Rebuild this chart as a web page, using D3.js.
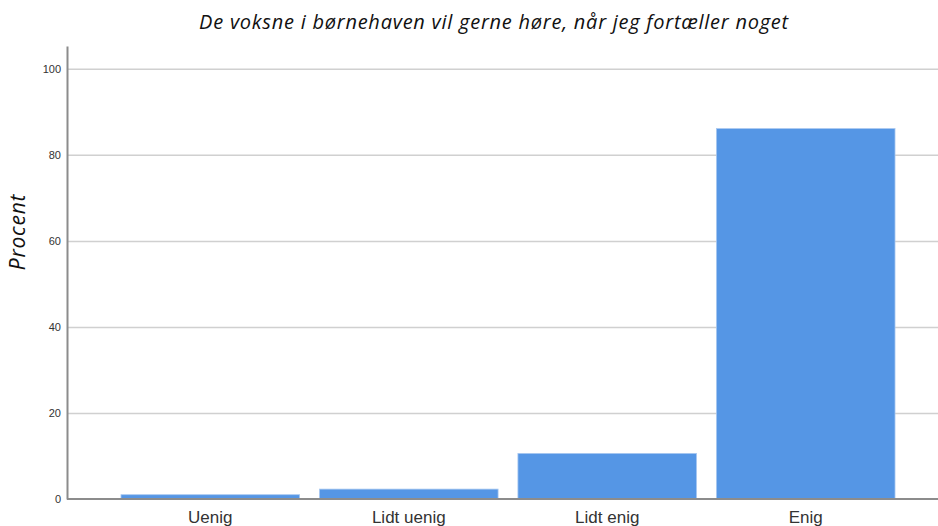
<!DOCTYPE html>
<html>
<head>
<meta charset="utf-8">
<script src="https://cdn.jsdelivr.net/npm/d3@7"></script>
<style>
  body { margin: 0; background: #fff; }
  svg { display: block; }
</style>
</head>
<body>
<script>
const categories = ['Uenig', 'Lidt uenig', 'Lidt enig', 'Enig'];
const percents = [1.0, 2.3, 10.6, 86.1];
const yTicks = [0, 20, 40, 60, 80, 100];

const width = 938, height = 526;
const svg = d3.select('body').append('svg')
    .attr('width', width)
    .attr('height', height);

const x = d3.scaleBand()
    .domain(categories)
    .range([67, 949])
    .paddingInner(0.1)
    .paddingOuter(0.272);

const y = d3.scaleLinear()
    .domain([0, 105.3])
    .range([499, 46]);

// gridlines
svg.append('g')
    .selectAll('line')
    .data(yTicks.filter(d => d > 0))
    .enter()
    .append('line')
    .attr('x1', 67)
    .attr('x2', width)
    .attr('y1', d => y(d) + 0.5)
    .attr('y2', d => y(d) + 0.5)
    .attr('stroke', '#d0d0d0')
    .attr('stroke-width', 1.5);

// bars
svg.append('g')
    .selectAll('rect')
    .data(percents)
    .enter()
    .append('rect')
    .attr('x', (d, i) => x(categories[i]))
    .attr('y', d => y(d))
    .attr('width', x.bandwidth())
    .attr('height', d => y(0) - y(d))
    .attr('fill', '#5596e5')
    .attr('stroke', '#a9c8f0')
    .attr('stroke-width', 0.8);

// y axis
const yAxis = d3.axisLeft(y).tickValues(yTicks).tickSize(0).tickPadding(6);
const gy = svg.append('g')
    .attr('transform', 'translate(67,0)')
    .call(yAxis);
gy.select('.domain').attr('stroke', '#8c8c8c').attr('stroke-width', 2);
gy.selectAll('text')
    .attr('font-family', 'Liberation Sans, Arial, sans-serif')
    .attr('font-size', 11)
    .attr('fill', '#333');

// x axis
const xAxis = d3.axisBottom(x).tickSize(0).tickPadding(12);
const gx = svg.append('g')
    .attr('transform', 'translate(0,499)')
    .call(xAxis);
gx.select('.domain').remove();
gx.append('line')
    .attr('x1', 67).attr('x2', width)
    .attr('stroke', '#8c8c8c').attr('stroke-width', 2);
gx.selectAll('text')
    .attr('font-family', 'Liberation Sans, Arial, sans-serif')
    .attr('font-size', 17)
    .attr('fill', '#333');

// title
svg.append('text')
    .attr('x', 494)
    .attr('y', 29)
    .attr('text-anchor', 'middle')
    .attr('font-family', 'Open Sans, sans-serif')
    .attr('font-style', 'italic')
    .attr('font-size', 20)
    .attr('letter-spacing', 0.75)
    .attr('fill', '#111')
    .text('De voksne i børnehaven vil gerne høre, når jeg fortæller noget');

// y label
svg.append('text')
    .attr('transform', 'translate(25,232) rotate(-90)')
    .attr('text-anchor', 'middle')
    .attr('font-family', 'Open Sans, sans-serif')
    .attr('font-style', 'italic')
    .attr('font-size', 21)
    .attr('letter-spacing', 0.8)
    .attr('fill', '#111')
    .text('Procent');
</script>
</body>
</html>
